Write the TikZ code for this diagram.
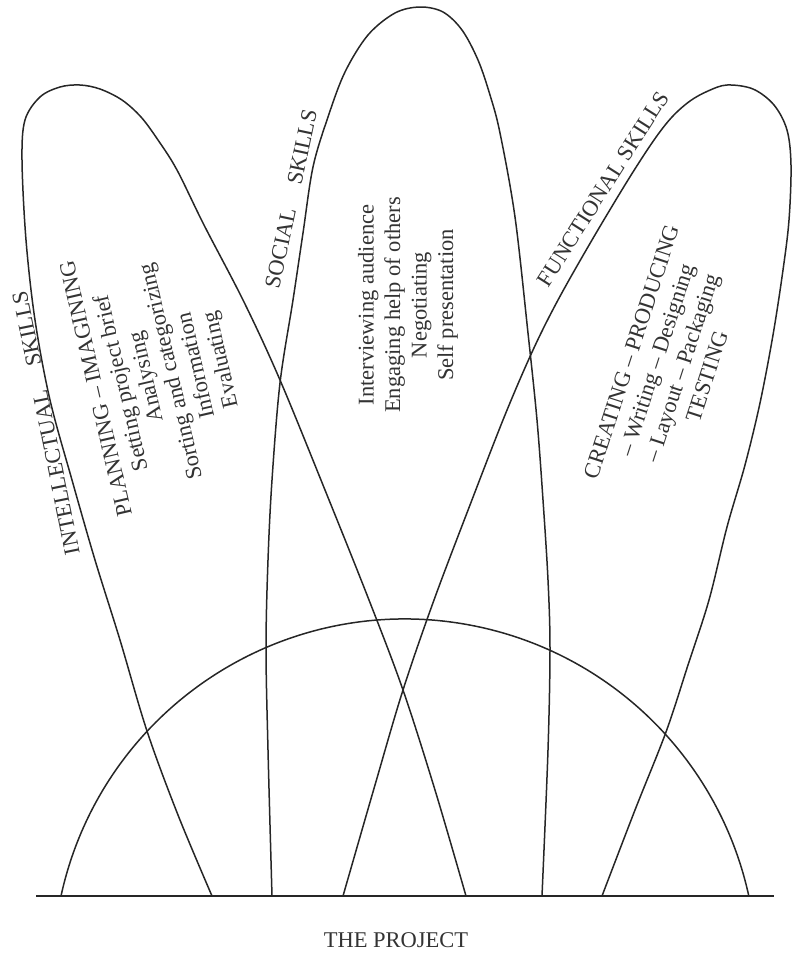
\documentclass[tikz,border=0pt]{standalone}
\usepackage{fontspec}
\setmainfont{Liberation Serif}
\begin{document}
\begin{tikzpicture}[x=1pt,y=-1pt,
  loopline/.style={line width=1.5pt, draw=black!85, line join=round},
  baseln/.style={line width=2pt, draw=black!85},
  lbl/.style={inner sep=0pt, text=black!80, font=\fontsize{22.5}{26}\selectfont},
  blk/.style={inner sep=0pt, text=black!80, align=center, font=\fontsize{22.5}{26.5}\selectfont}]
\useasboundingbox (0,0) rectangle (792,962);
% baseline and arc
\coordinate (bl) at (36,896);
\coordinate (br) at (774,896);
\draw[baseln] (bl) -- (br);
\draw[loopline] (61,896) arc[start angle=192.3, end angle=347.7, radius=352];
% intellectual loop
\draw[loopline] plot[smooth, tension=0.55] coordinates {
 (212,896) (178,815) (147,731) (120,640) (95,560) (72,480) (50,400) (35,320) (26,240) (22,160)
 (25,120) (40,97) (60,87) (80,85) (100,89) (122,100) (141,117) (158,140) (177,170) (204,225)
 (244,302) (280,380) (325,490) (369,600) (403,690) (435,790) (466,896)};
% social loop
\draw[loopline] plot[smooth, tension=0.55] coordinates {
 (272,896) (268,750) (266,648) (268,560) (272,480) (280,383) (293,300) (303,233) (313,167)
 (328,117) (345,72) (368,35) (395,13) (420,7) (443,12) (462,30) (478,60) (490,95) (500,133)
 (515,217) (528,333) (537,420) (543,500) (548,580) (550,649) (548,750) (542,896)};
% functional loop
\draw[loopline] plot[smooth, tension=0.55] coordinates {
 (343,896) (375,785) (403,690) (434,600) (470,505) (505,415) (533,350) (558,300) (592,240)
 (628,180) (654,140) (672,117) (690,101) (708,91) (727,85) (753,89)
 (774,105) (787,130) (791,165)
 (789,220) (783,270) (773,335) (760,403) (745,465) (727,527) (709,600) (688,665) (666,732)
 (635,810) (602,896)};
% labels
\node[lbl, rotate=101.5] (intel) at (46,423) {INTELLECTUAL\hspace{1.1em}SKILLS};
\node[blk, rotate=103, font=\fontsize{22.5}{25.5}\selectfont] (intelb) at (160,374) {PLANNING -- IMAGINING\\Setting project brief\\Analysing\\Sorting and categorizing\\Information\\Evaluating};
\node[lbl, rotate=78] (soc) at (291,199) {SOCIAL\hspace{1.1em}SKILLS};
\node[blk, rotate=90] (socb) at (408,305) {Interviewing audience\\Engaging help of others\\Negotiating\\Self presentation};
\node[lbl, rotate=57.5] (func) at (603,189) {FUNCTIONAL SKILLS};
\node[blk, rotate=72] (funcb) at (669,364) {CREATING -- PRODUCING\\-- Writing -- Designing\\-- Layout -- Packaging\\TESTING};
\node[lbl] (proj) at (396,940) {THE PROJECT};
\end{tikzpicture}
\end{document}
